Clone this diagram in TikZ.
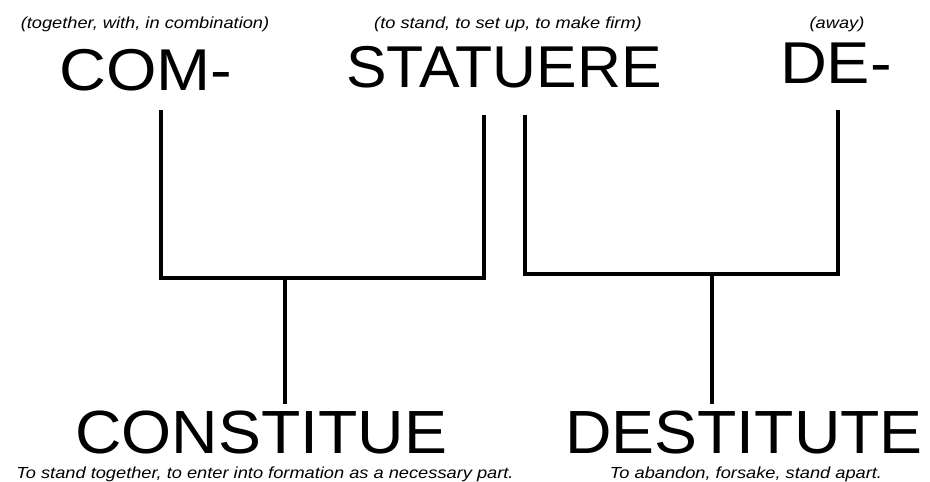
\documentclass[tikz,border=0pt]{standalone}
\usepackage{fontspec}
\setmainfont{Liberation Sans}
\usetikzlibrary{calc}

\begin{document}
\begin{tikzpicture}[
  x=1pt, y=1pt,
  root/.style={font=\fontsize{59}{60}\selectfont, anchor=base, inner sep=0pt},
  word/.style={font=\fontsize{61}{62}\selectfont, anchor=base, inner sep=0pt},
  gloss/.style={font=\fontsize{16}{18}\selectfont\itshape, anchor=base, inner sep=0pt},
  bar/.style={line width=4pt}
]
\fill[white] (0,0) rectangle (930,-482);
\useasboundingbox (0,0) rectangle (930,-482);
% roots and their meanings
\node[gloss] (gcom) at (145,-28) {\scalebox{1.14}[1]{(together, with, in combination)}};
\node[gloss] (gstat) at (508,-28) {\scalebox{1.14}[1]{(to stand, to set up, to make firm)}};
\node[gloss] (gde) at (837,-28) {\scalebox{1.14}[1]{(away)}};
\node[root] (com) at (146,-90) {\scalebox{1.1}[1]{COM-}};
\node[root] (stat) at (504,-87) {\scalebox{1.03}[1]{STATUERE}};
\node[root] (de) at (836,-83) {\scalebox{1.1}[1]{DE-}};
% derived words
\node[word] (constitue) at (261,-453) {\scalebox{1.055}[1]{CONSTITUE}};
\node[word] (destitute) at (744,-453) {\scalebox{1.055}[1]{DESTITUTE}};
\node[gloss] (gconst) at (265,-478) {\scalebox{1.14}[1]{To stand together, to enter into formation as a necessary part.}};
\node[gloss] (gdest) at (746,-478) {\scalebox{1.14}[1]{To abandon, forsake, stand apart.}};
% legs under the roots
\coordinate (comleg) at (161,-110);
\coordinate (statlegl) at (484,-115);
\coordinate (statlegr) at (525,-115);
\coordinate (deleg) at (838,-110);
\coordinate (ljoin) at (285,-278);
\coordinate (rjoin) at (712,-274);
\draw[bar] (comleg) |- (ljoin) -| (statlegl);
\draw[bar] (statlegr) |- (rjoin) -| (deleg);
\draw[bar, shorten >=6pt] (ljoin) -- (ljoin |- constitue.north);
\draw[bar, shorten >=6pt] (rjoin) -- (rjoin |- destitute.north);
\end{tikzpicture}
\end{document}
